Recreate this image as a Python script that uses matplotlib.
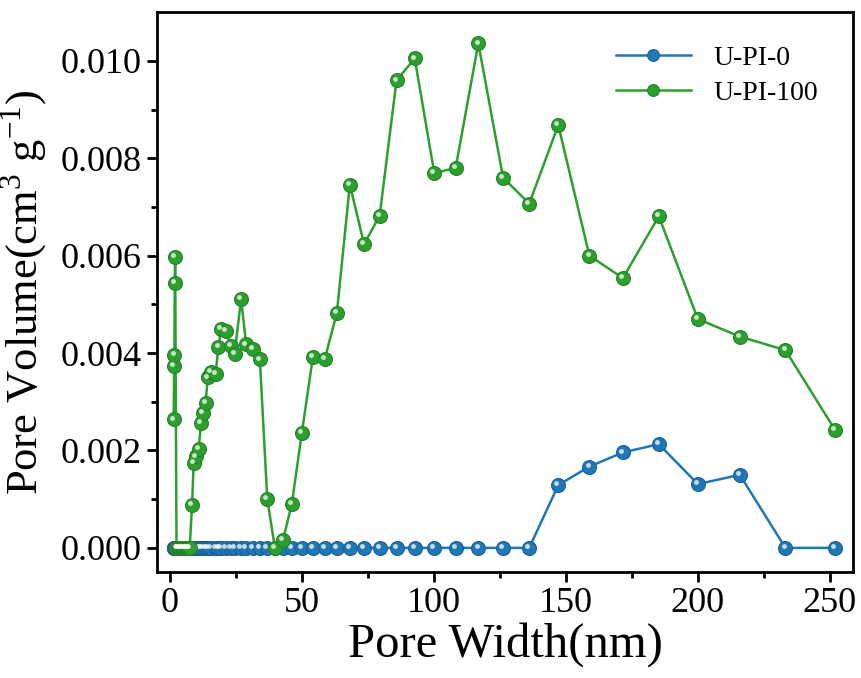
import matplotlib
matplotlib.use("Agg")
import matplotlib.pyplot as plt
import matplotlib.transforms as mtransforms
import numpy as np

# pore widths (nm), shared by both samples
pore_width = [1.45, 1.6, 1.7, 1.85, 2.0, 2.5, 3.0, 3.5, 4.0, 4.5, 5.0, 5.5, 6.0, 6.5,
              7.0, 7.5, 8.4, 9.0, 9.9, 10.9, 11.8, 12.5, 13.5, 14.4, 15.6, 17.3,
              18.4, 19.4, 21.3, 23.0, 24.5, 27.0, 28.9, 31.4, 34.1, 36.9, 39.8,
              42.9, 46.2, 50.0, 54.2, 58.7, 63.3, 68.2, 73.6, 79.5, 85.9, 92.8,
              100.2, 108.3, 116.9, 126.3, 136.2, 147.2, 159.0, 171.7, 185.3,
              200.1, 216.0, 233.3, 252.0]

# U-PI-100
vol_pi100 = [0.00264, 0.00374, 0.00396, 0.00544, 0.00598, 0.0, 0.0, 0.0, 0.0, 0.0,
             0.0, 0.0, 0.0, 0.0, 0.0, 0.0, 0.00088, 0.00174, 0.00188, 0.00203,
             0.00257, 0.00278, 0.00298, 0.00350, 0.00362, 0.00357, 0.00412,
             0.00450, 0.00446, 0.00415, 0.00398, 0.00511, 0.00418, 0.00408,
             0.00387, 0.00101, 0.0, 0.00017, 0.00090, 0.00236, 0.00392, 0.00388,
             0.00483, 0.00746, 0.00624, 0.00682, 0.00960, 0.01005, 0.00770,
             0.00780, 0.01036, 0.00760, 0.00707, 0.00868, 0.00600, 0.00554,
             0.00681, 0.00470, 0.00434, 0.00406, 0.00243]

# U-PI-0: zero up to 136 nm
vol_pi0 = [0.0] * 53 + [0.00129, 0.00167, 0.00196, 0.00213, 0.00131, 0.00150, 0.0, 0.0]

series = [("U-PI-0", vol_pi0, "#1f77b4", "#17609a"),
          ("U-PI-100", vol_pi100, "#2ca02c", "#23822a")]

plt.rcParams['font.family'] = ['Liberation Serif', 'DejaVu Serif']
plt.rcParams['mathtext.fontset'] = 'custom'
plt.rcParams['mathtext.rm'] = 'Liberation Serif'

fig = plt.figure(figsize=(8.61, 6.78), dpi=100)
ax = fig.add_axes([0.182, 0.156, 0.809, 0.826])

hl = mtransforms.offset_copy(ax.transData, fig=fig, x=-1.3, y=1.3, units='points')
for name, vals, col, edge in series:
    ax.plot(pore_width, vals, '-o', color=col, lw=1.8, ms=10,
            mfc=col, mec=edge, mew=0.8, label=name)
    # little highlight to fake the shaded balls
    ax.plot(pore_width, vals, 'o', ms=3.5, color='white', alpha=0.75,
            mew=0, transform=hl)

ax.set_xlim(-5, 259)
ax.set_ylim(-0.0005, 0.011)
ax.set_xticks(np.arange(0, 251, 50))
ax.set_xticks(np.arange(25, 260, 50), minor=True)
ax.set_yticks(np.arange(0, 0.0101, 0.002))
ax.set_yticks(np.arange(0.001, 0.0101, 0.002), minor=True)
ax.yaxis.set_major_formatter(matplotlib.ticker.FormatStrFormatter('%.3f'))

ax.tick_params(which='major', direction='out', length=7, width=2, labelsize=26)
ax.tick_params(which='minor', direction='out', length=4, width=2)
ax.tick_params(top=False, right=False)
for s in ax.spines.values():
    s.set_linewidth(2)

ax.set_xlabel('Pore Width(nm)', fontsize=35, labelpad=2)
ax.set_ylabel('Pore Volume(cm$^{\\mathrm{3}}$ g$^{\\mathrm{-1}}$)', fontsize=32, labelpad=8)

leg = ax.legend(loc='upper right', frameon=False, fontsize=20, handlelength=2.7,
                bbox_to_anchor=(0.985, 0.985), labelspacing=0.35, markerscale=0.85)

fig.savefig('out.png', dpi=100)
